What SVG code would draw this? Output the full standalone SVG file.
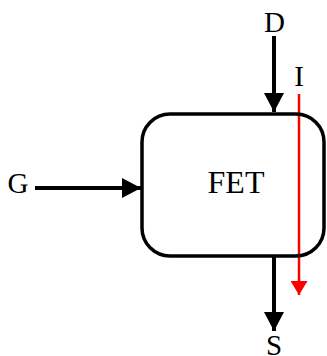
<svg xmlns="http://www.w3.org/2000/svg" width="327" height="356" viewBox="0 0 327 356">
  <style>
    .lbl { font-family: "Liberation Serif", "DejaVu Serif", serif; fill: #000; text-anchor: middle; }
    .wire { stroke: #000; stroke-width: 4; fill: none; }
    .flow { stroke: #ff0000; stroke-width: 2.5; fill: none; }
  </style>
  <defs>
    <marker id="head" viewBox="0 0 19 20" refX="19" refY="10" markerWidth="19" markerHeight="20" markerUnits="userSpaceOnUse" orient="auto">
      <path d="M0,0 L19,10 L0,20 Z" fill="#000"/>
    </marker>
    <marker id="headRed" viewBox="0 0 14 17" refX="14" refY="8.5" markerWidth="14" markerHeight="17" markerUnits="userSpaceOnUse" orient="auto">
      <path d="M0,0 L14,8.5 L0,17 Z" fill="#ff0000"/>
    </marker>
  </defs>

  <g id="connectors">
    <line class="wire" x1="274" y1="36" x2="274" y2="112" marker-end="url(#head)"/>
    <line class="wire" x1="35" y1="188" x2="141" y2="188" marker-end="url(#head)"/>
    <line class="wire" x1="274" y1="256" x2="274" y2="331" marker-end="url(#head)"/>
    <line class="flow" x1="299" y1="94" x2="299" y2="295" marker-end="url(#headRed)"/>
  </g>

  <g id="fet">
    <rect x="142" y="114" width="182" height="142" rx="28" ry="28" fill="none" stroke="#000" stroke-width="3.5"/>
    <text class="lbl" x="236" y="193" font-size="32">FET</text>
  </g>

  <g id="drain">
    <text class="lbl" x="274.5" y="32" font-size="29">D</text>
  </g>
  <g id="current">
    <text class="lbl" x="299" y="86" font-size="29">I</text>
  </g>
  <g id="gate">
    <text class="lbl" x="18" y="193" font-size="29">G</text>
  </g>
  <g id="source">
    <text class="lbl" x="274" y="355" font-size="29">S</text>
  </g>
</svg>
